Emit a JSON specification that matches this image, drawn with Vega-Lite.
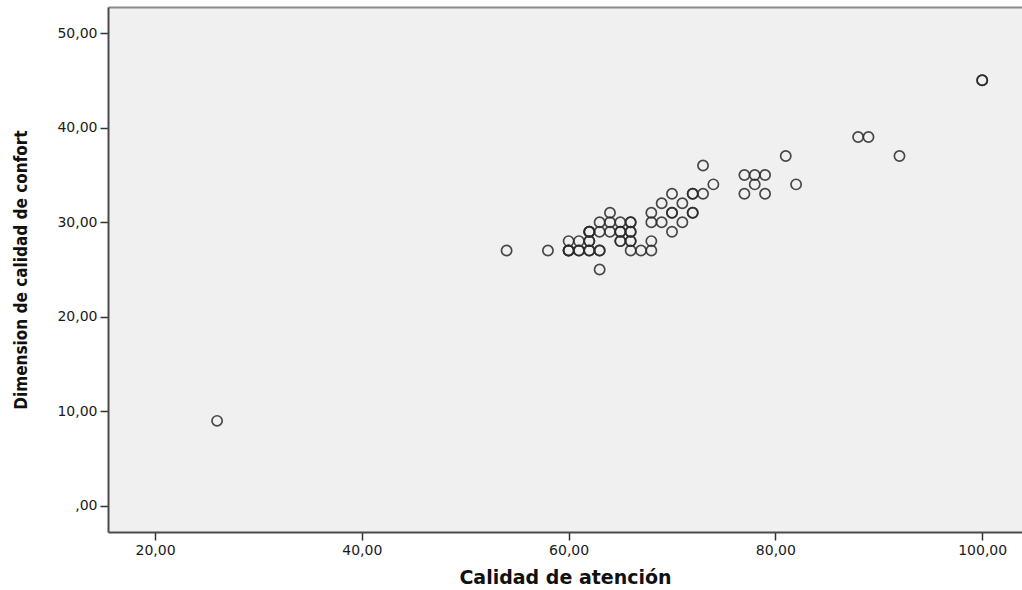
{
  "$schema": "https://vega.github.io/schema/vega-lite/v6.json",
  "autosize": {"type": "none"},
  "padding": {"left": 108, "top": 7, "right": 0, "bottom": 58},
  "width": 914,
  "height": 525,
  "background": "white",
  "config": {
    "view": {"fill": "#f0f0f0", "stroke": null},
    "axis": {
      "grid": false,
      "domainColor": "#4a4a4a",
      "domainWidth": 2,
      "tickColor": "#333333",
      "tickWidth": 1.5,
      "tickSize": 8,
      "labelFont": "DejaVu Sans",
      "labelFontSize": 14,
      "labelColor": "#1a1a1a",
      "labelPadding": 3,
      "titleColor": "#111111"
    }
  },
  "data": {
    "values": [
      {"atencion": 26, "confort": 9},
      {"atencion": 54, "confort": 27},
      {"atencion": 58, "confort": 27},
      {"atencion": 60, "confort": 27},
      {"atencion": 60, "confort": 27},
      {"atencion": 60, "confort": 27},
      {"atencion": 61, "confort": 27},
      {"atencion": 61, "confort": 27},
      {"atencion": 62, "confort": 27},
      {"atencion": 62, "confort": 27},
      {"atencion": 63, "confort": 27},
      {"atencion": 63, "confort": 27},
      {"atencion": 66, "confort": 27},
      {"atencion": 67, "confort": 27},
      {"atencion": 68, "confort": 27},
      {"atencion": 63, "confort": 25},
      {"atencion": 60, "confort": 28},
      {"atencion": 61, "confort": 28},
      {"atencion": 62, "confort": 28},
      {"atencion": 62, "confort": 28},
      {"atencion": 65, "confort": 28},
      {"atencion": 65, "confort": 28},
      {"atencion": 66, "confort": 28},
      {"atencion": 66, "confort": 28},
      {"atencion": 68, "confort": 28},
      {"atencion": 62, "confort": 29},
      {"atencion": 62, "confort": 29},
      {"atencion": 62, "confort": 29},
      {"atencion": 63, "confort": 29},
      {"atencion": 64, "confort": 29},
      {"atencion": 65, "confort": 29},
      {"atencion": 65, "confort": 29},
      {"atencion": 66, "confort": 29},
      {"atencion": 66, "confort": 29},
      {"atencion": 70, "confort": 29},
      {"atencion": 63, "confort": 30},
      {"atencion": 64, "confort": 30},
      {"atencion": 65, "confort": 30},
      {"atencion": 66, "confort": 30},
      {"atencion": 66, "confort": 30},
      {"atencion": 68, "confort": 30},
      {"atencion": 69, "confort": 30},
      {"atencion": 71, "confort": 30},
      {"atencion": 64, "confort": 31},
      {"atencion": 68, "confort": 31},
      {"atencion": 70, "confort": 31},
      {"atencion": 70, "confort": 31},
      {"atencion": 72, "confort": 31},
      {"atencion": 72, "confort": 31},
      {"atencion": 69, "confort": 32},
      {"atencion": 71, "confort": 32},
      {"atencion": 70, "confort": 33},
      {"atencion": 72, "confort": 33},
      {"atencion": 72, "confort": 33},
      {"atencion": 73, "confort": 33},
      {"atencion": 77, "confort": 33},
      {"atencion": 79, "confort": 33},
      {"atencion": 74, "confort": 34},
      {"atencion": 78, "confort": 34},
      {"atencion": 82, "confort": 34},
      {"atencion": 77, "confort": 35},
      {"atencion": 78, "confort": 35},
      {"atencion": 79, "confort": 35},
      {"atencion": 73, "confort": 36},
      {"atencion": 81, "confort": 37},
      {"atencion": 92, "confort": 37},
      {"atencion": 88, "confort": 39},
      {"atencion": 89, "confort": 39},
      {"atencion": 100, "confort": 45},
      {"atencion": 100, "confort": 45}
    ]
  },
  "layer": [
    {
      "mark": {"type": "point", "shape": "circle", "filled": false, "size": 105, "stroke": "#2a2a2a", "strokeWidth": 1.7, "opacity": 0.85, "clip": true},
      "encoding": {
        "x": {
          "field": "atencion", "type": "quantitative",
          "scale": {"domain": [15.45, 103.85], "nice": false, "zero": false},
          "axis": {
            "title": "Calidad de atención",
            "titleFont": "DejaVu Sans", "titleFontSize": 19, "titleFontWeight": "bold",
            "titlePadding": 11,
            "values": [20, 40, 60, 80, 100],
            "labelExpr": "datum.value == 0 ? ',00' : replace(format(datum.value, '.2f'), '.', ',')"
          }
        },
        "y": {
          "field": "confort", "type": "quantitative",
          "scale": {"domain": [-2.75, 52.75], "nice": false, "zero": false},
          "axis": {
            "title": "Dimension de calidad de confort",
            "titleFont": "DejaVu Sans Condensed, Liberation Sans", "titleFontSize": 17, "titleFontWeight": "bold",
            "titlePadding": 26,
            "values": [0, 10, 20, 30, 40, 50],
            "labelExpr": "datum.value == 0 ? ',00' : replace(format(datum.value, '.2f'), '.', ',')"
          }
        }
      }
    },
    {
      "mark": {"type": "point", "opacity": 0},
      "encoding": {
        "x": {
          "field": "atencion", "type": "quantitative",
          "scale": {"domain": [15.45, 103.85], "nice": false, "zero": false},
          "axis": {"orient": "top", "title": null, "labels": false, "ticks": false, "domainColor": "#8a8a8a", "domainWidth": 2}
        }
      }
    }
  ],
  "resolve": {"axis": {"x": "independent"}}
}
